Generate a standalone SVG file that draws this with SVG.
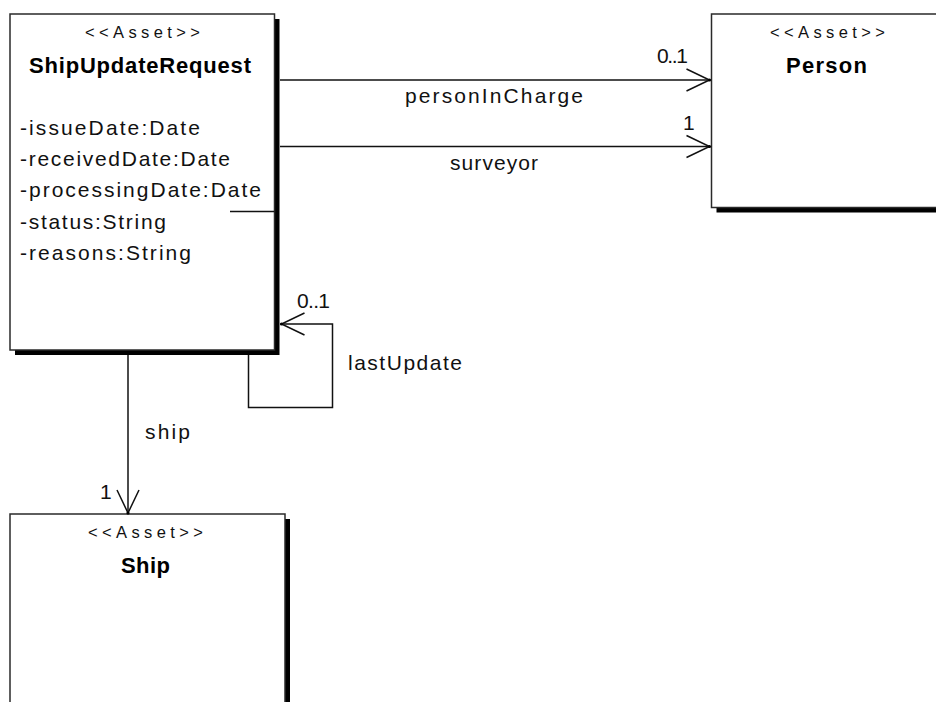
<svg xmlns="http://www.w3.org/2000/svg" width="936" height="702" viewBox="0 0 936 702">
  <style>
    .box { fill: #ffffff; stroke: #2a2a2a; stroke-width: 1.5; }
    .shadow { fill: #000000; }
    .line { fill: none; stroke: #111111; stroke-width: 1.5; }
    .txt { font-family: "Liberation Sans", Arial, sans-serif; font-size: 21px; fill: #111111; }
    .stereo { font-family: "Liberation Sans", Arial, sans-serif; font-size: 16.5px; fill: #111111; }
    .title { font-family: "Liberation Sans", Arial, sans-serif; font-size: 22px; font-weight: bold; fill: #000000; }
  </style>
  <defs>
    <marker id="open-arrow" markerUnits="userSpaceOnUse" markerWidth="30" markerHeight="30" refX="23" refY="11" orient="auto" overflow="visible">
      <polyline points="0,0 23,11 0,22" fill="none" stroke="#111111" stroke-width="1.5"/>
      <circle cx="23" cy="11" r="1.6" fill="#000000"/>
    </marker>
  </defs>
  <rect width="936" height="702" fill="#ffffff"/>

  <!-- ShipUpdateRequest class -->
  <g id="ShipUpdateRequest">
    <rect class="shadow" x="15" y="19" width="264.5" height="336"/>
    <rect class="box" x="10" y="14" width="264.5" height="336"/>
    <text class="stereo" x="85" y="38" textLength="115" lengthAdjust="spacing">&lt;&lt;Asset&gt;&gt;</text>
    <text class="title" x="29" y="72.5" textLength="222" lengthAdjust="spacing">ShipUpdateRequest</text>
    <text class="txt" x="20" y="135" textLength="180" lengthAdjust="spacing">-issueDate:Date</text>
    <text class="txt" x="20" y="166" textLength="210" lengthAdjust="spacing">-receivedDate:Date</text>
    <text class="txt" x="20" y="197" textLength="241" lengthAdjust="spacing">-processingDate:Date</text>
    <text class="txt" x="20" y="229" textLength="146" lengthAdjust="spacing">-status:String</text>
    <text class="txt" x="20" y="260" textLength="171" lengthAdjust="spacing">-reasons:String</text>
    <line class="line" x1="230" y1="211.5" x2="274.5" y2="211.5"/>
  </g>

  <!-- Person class -->
  <g id="Person">
    <rect class="shadow" x="716.5" y="19" width="232" height="193.5"/>
    <rect class="box" x="711.5" y="14" width="232" height="193.5"/>
    <text class="stereo" x="770" y="38" textLength="115" lengthAdjust="spacing">&lt;&lt;Asset&gt;&gt;</text>
    <text class="title" x="786" y="72.5" textLength="81" lengthAdjust="spacing">Person</text>
  </g>

  <!-- Ship class -->
  <g id="Ship">
    <rect class="shadow" x="15" y="519" width="275" height="220"/>
    <rect class="box" x="10" y="514" width="275" height="220"/>
    <text class="stereo" x="88" y="538" textLength="115" lengthAdjust="spacing">&lt;&lt;Asset&gt;&gt;</text>
    <text class="title" x="121" y="573" textLength="49" lengthAdjust="spacing">Ship</text>
  </g>

  <!-- Associations -->
  <g id="connectors">
    <line class="line" x1="280" y1="80" x2="709.5" y2="80" marker-end="url(#open-arrow)"/>
    <text class="txt" x="657" y="63" textLength="31" lengthAdjust="spacing">0..1</text>
    <text class="txt" x="405" y="103" textLength="178" lengthAdjust="spacing">personInCharge</text>

    <line class="line" x1="280" y1="146.5" x2="709.5" y2="146.5" marker-end="url(#open-arrow)"/>
    <text class="txt" x="683" y="130">1</text>
    <text class="txt" x="450" y="170" textLength="88" lengthAdjust="spacing">surveyor</text>

    <polyline class="line" points="248.5,355 248.5,407.5 332.5,407.5 332.5,324 281.5,324" marker-end="url(#open-arrow)"/>
    <text class="txt" x="297" y="308" textLength="33" lengthAdjust="spacing">0..1</text>
    <text class="txt" x="348" y="370" textLength="114" lengthAdjust="spacing">lastUpdate</text>

    <line class="line" x1="128" y1="355" x2="128" y2="513" marker-end="url(#open-arrow)"/>
    <text class="txt" x="145" y="439" textLength="45" lengthAdjust="spacing">ship</text>
    <text class="txt" x="100" y="499">1</text>
  </g>
</svg>
